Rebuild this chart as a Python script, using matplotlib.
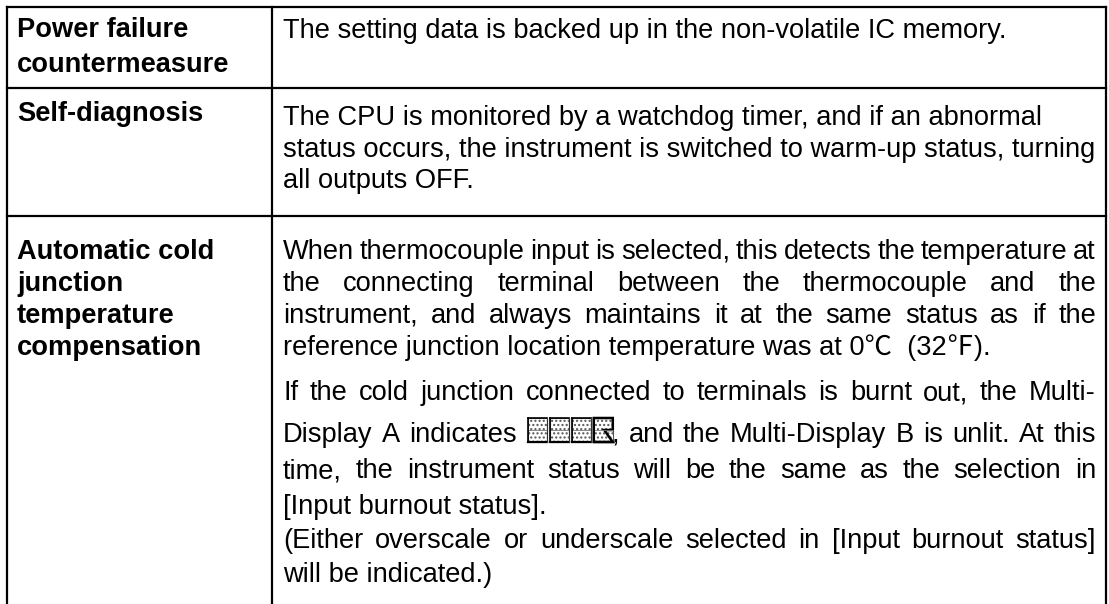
import matplotlib
matplotlib.use("Agg")
import matplotlib.pyplot as plt
from matplotlib.patches import Rectangle, Polygon

W, H = 1109, 604

# ---- table content ----
row_headers = [
    ["Power failure", "countermeasure"],
    ["Self-diagnosis"],
    ["Automatic cold", "junction", "temperature", "compensation"],
]
GLYPH = "\u0001"
row_lines = [
    ["The setting data is backed up in the non-volatile IC memory."],
    ["The CPU is monitored by a watchdog timer, and if an abnormal",
     "status occurs, the instrument is switched to warm-up status, turning",
     "all outputs OFF."],
    ["When thermocouple input is selected, this detects the temperature at",
     "the connecting terminal between the thermocouple and the",
     "instrument, and always maintains it at the same status as if the",
     "reference junction location temperature was at 0\u2103  (32\u2109).",
     "If the cold junction connected to terminals is burnt out, the Multi-",
     "Display A indicates " + GLYPH + ", and the Multi-Display B is unlit. At this",
     "time, the instrument status will be the same as the selection in",
     "[Input burnout status].",
     "(Either overscale or underscale selected in [Input burnout status]",
     "will be indicated.)"],
]
row_justify = [
    [False],
    [False, False, False],
    [True, True, True, False, True, True, True, False, True, False],
]

# ---- layout (pixels) ----
X_L, X_DIV, X_R = 7, 272, 1106
Y_TOP = 7
ROW_DIVS = [88, 216]
HEAD_X = 17
TXT_X0, TXT_X1 = 283, 1096
head_base = [[37, 72], [121], [259, 291, 323, 355]]
text_base = [[38], [125, 157, 188],
             [259, 291, 323, 355, 400, 442, 478, 514, 548, 582]]
FS = 19.65
FAM = ["Liberation Sans", "Noto Sans CJK JP"]
GLYPH_W = 86

fig = plt.figure(figsize=(W / 100, H / 100), dpi=100)
ax = fig.add_axes([0, 0, 1, 1])
ax.set_xlim(0, W)
ax.set_ylim(H, 0)
ax.axis("off")
fig.patch.set_facecolor("white")

lw = 1.6
ax.plot([X_L, X_R], [Y_TOP, Y_TOP], color="black", lw=lw, solid_capstyle="projecting")
for y in ROW_DIVS:
    ax.plot([X_L, X_R], [y, y], color="black", lw=lw)
for x in (X_L, X_DIV, X_R):
    ax.plot([x, x], [Y_TOP, H + 5], color="black", lw=lw, solid_capstyle="projecting")

fig.canvas.draw()
renderer = fig.canvas.get_renderer()


def width_of(s, weight="normal"):
    t = ax.text(0, 0, s, fontsize=FS, family=FAM, weight=weight)
    w = t.get_window_extent(renderer=renderer).width
    t.remove()
    return w


def draw_glyph(x, y):
    # four small 7-segment style cells
    cw, ch, gap = 19, 24, 3
    for i in range(4):
        cx = x + i * (cw + gap)
        ax.add_patch(Rectangle((cx, y - ch), cw, ch, facecolor="white",
                               edgecolor="#555555", hatch="....", lw=0.8))
        ax.plot([cx, cx + cw], [y - ch / 2, y - ch / 2], color="#777777", lw=0.6)
        ax.plot([cx, cx + cw], [y, y], color="black", lw=1.6)
        ax.plot([cx, cx], [y - ch, y], color="black", lw=1.2)
        if i < 3:
            ax.plot([cx, cx + cw], [y - ch, y - ch], color="black", lw=1.2)
            ax.plot([cx + cw, cx + cw], [y - ch, y], color="#333333", lw=0.8)
    cx = x + 3 * (cw + gap)
    ax.add_patch(Polygon([[cx, y], [cx, y - ch], [cx + cw, y - ch], [cx + cw, y - ch / 2],
                          [cx + cw * 0.55, y - ch / 2], [cx + cw, y]],
                         closed=True, facecolor="none", edgecolor="black", lw=1.8))


def token_width(tok):
    if tok.startswith(GLYPH):
        rest = tok[1:]
        return GLYPH_W + (width_of(rest) if rest else 0)
    return width_of(tok)


def draw_token(x, y, tok):
    if tok.startswith(GLYPH):
        draw_glyph(x + 2, y)
        rest = tok[1:]
        if rest:
            ax.text(x + GLYPH_W, y, rest, fontsize=FS, family=FAM, va="baseline")
    else:
        ax.text(x, y, tok, fontsize=FS, family=FAM, va="baseline")


def draw_line(text, y, justify):
    if not justify and GLYPH not in text:
        ax.text(TXT_X0, y, text, fontsize=FS, family=FAM, va="baseline")
        return
    words = text.split(" ")
    widths = [token_width(w) for w in words]
    sp = width_of("a b") - width_of("ab")
    if justify:
        gap = (TXT_X1 - TXT_X0 - sum(widths)) / (len(words) - 1)
    else:
        gap = sp
    x = TXT_X0
    for w, wd in zip(words, widths):
        draw_token(x, y, w)
        x += wd + gap


for heads, hb in zip(row_headers, head_base):
    for s, y in zip(heads, hb):
        ax.text(HEAD_X, y, s, fontsize=FS, family=FAM, weight="bold", va="baseline")

for lines, tb, js in zip(row_lines, text_base, row_justify):
    for s, y, j in zip(lines, tb, js):
        draw_line(s, y, j)

fig.savefig("out.png", dpi=100, facecolor="white")
